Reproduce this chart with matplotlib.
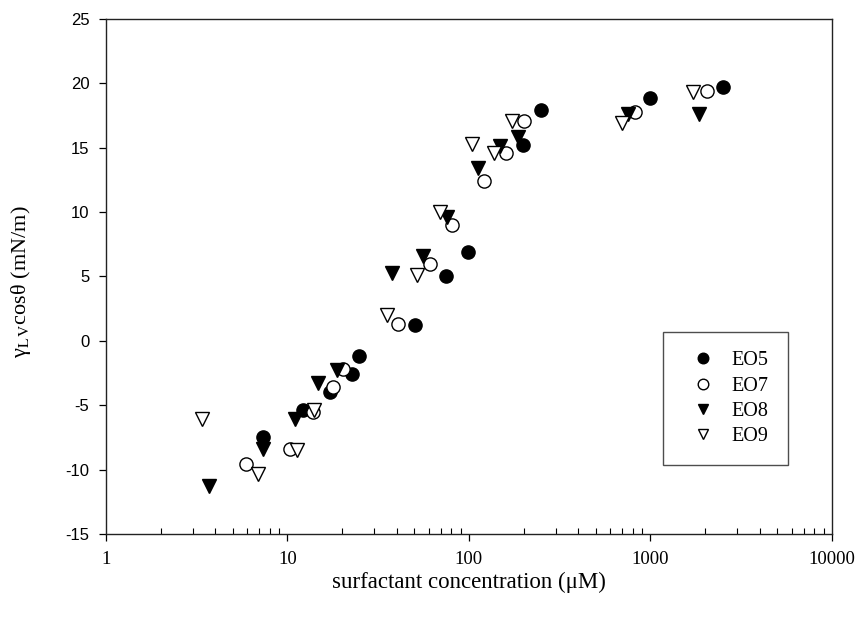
import matplotlib
matplotlib.use("Agg")
import matplotlib.pyplot as plt
from matplotlib.ticker import LogLocator, FixedLocator, NullFormatter

plt.rcParams['mathtext.fontset'] = 'stix'

# Surfactant concentration (uM) and gamma_LV cos(theta) (mN/m) for each surfactant
eo5_conc = [7.3, 12.2, 17.1, 22.7, 24.8, 50.4, 74.7, 98.7, 198.5, 249, 993, 2500]
eo5_val = [-7.5, -5.4, -4.0, -2.6, -1.2, 1.2, 5.0, 6.9, 15.2, 17.9, 18.9, 19.7]

eo7_conc = [5.9, 10.3, 13.8, 17.8, 20.2, 40.6, 61, 80.6, 121, 160, 201, 822, 2048]
eo7_val = [-9.6, -8.4, -5.5, -3.6, -2.2, 1.3, 6.0, 9.0, 12.4, 14.6, 17.1, 17.8, 19.4]

eo8_conc = [3.7, 7.3, 11.0, 14.7, 18.7, 37.6, 55.8, 75.7, 112, 148, 186, 752, 1849]
eo8_val = [-11.3, -8.4, -6.1, -3.3, -2.3, 5.3, 6.6, 9.6, 13.4, 15.1, 15.8, 17.6, 17.6]

eo9_conc = [3.4, 6.9, 11.3, 14.0, 35.3, 51.7, 69.2, 104, 137, 173, 697, 1714]
eo9_val = [-6.1, -10.3, -8.5, -5.4, 2.0, 5.1, 10.0, 15.3, 14.6, 17.1, 16.9, 19.3]

x_ticks = [1, 10, 100, 1000, 10000]
x_tick_labels = ['1', '10', '100', '1000', '10000']
y_ticks = [-15, -10, -5, 0, 5, 10, 15, 20, 25]

fig = plt.figure(figsize=(8.65, 6.24), dpi=100)
ax = fig.add_axes([0.1225, 0.1442, 0.9618 - 0.1225, 0.9696 - 0.1442])

ms = 9.5
ax.plot(eo5_conc, eo5_val, 'o', ms=ms, mfc='black', mec='black', mew=1, label='EO5')
ax.plot(eo7_conc, eo7_val, 'o', ms=ms, mfc='white', mec='black', mew=1, label='EO7')
ax.plot(eo8_conc, eo8_val, 'v', ms=ms, mfc='black', mec='black', mew=1, label='EO8')
ax.plot(eo9_conc, eo9_val, 'v', ms=ms, mfc='white', mec='black', mew=1, label='EO9')

ax.set_xscale('log')
ax.set_xlim(1, 10000)
ax.set_ylim(-15, 25)

ax.xaxis.set_major_locator(FixedLocator(x_ticks))
ax.set_xticklabels(x_tick_labels, family='Liberation Serif', fontsize=13.5)
ax.xaxis.set_minor_locator(LogLocator(base=10, subs=range(2, 10), numticks=20))
ax.xaxis.set_minor_formatter(NullFormatter())
ax.set_yticks(y_ticks)
ax.set_yticklabels([str(v) for v in y_ticks], family='Liberation Sans', fontsize=12)

ax.tick_params(axis='x', which='major', direction='out', length=5, width=0.9, pad=7)
ax.tick_params(axis='x', which='minor', direction='in', length=4, width=0.8)
ax.tick_params(axis='y', which='major', direction='out', length=5, width=0.9, pad=7)
ax.tick_params(axis='y', which='minor', left=False)

for s in ax.spines.values():
    s.set_linewidth(1.0)
    s.set_color('#222222')

ax.set_xlabel('surfactant concentration (μM)', family='Liberation Serif', fontsize=16.5, labelpad=3)
ax.set_ylabel('γ$_{\\mathrm{L\\,V}}$cosθ (mN/m)', family='Liberation Serif', fontsize=16)
ax.yaxis.set_label_coords(-0.1, 0.49)

leg = ax.legend(loc='lower right', bbox_to_anchor=(0.939, 0.134),
                prop={'family': 'Liberation Serif', 'size': 14.5},
                frameon=True, fancybox=False, edgecolor='#222222',
                borderpad=0.95, labelspacing=0.3, handletextpad=0.35,
                handlelength=2.1, markerscale=0.8, borderaxespad=0)
leg.get_frame().set_linewidth(1.0)

fig.savefig('out.png', dpi=100)
